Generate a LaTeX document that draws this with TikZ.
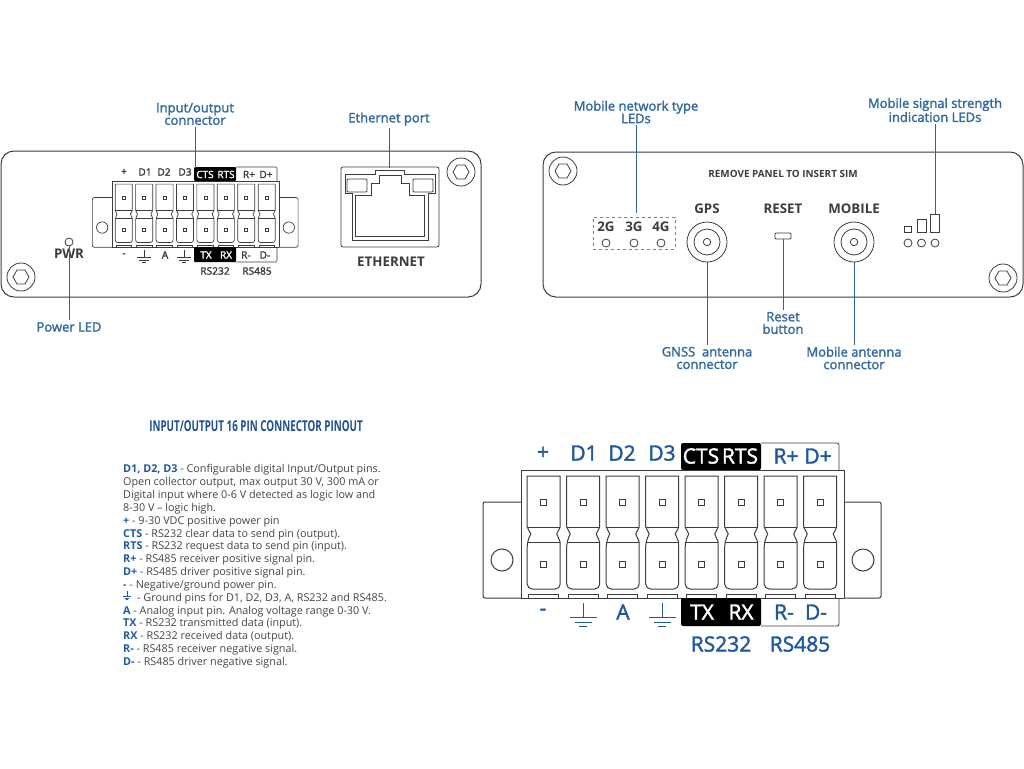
\documentclass[tikz,border=0pt]{standalone}
\usepackage{fontspec}
\setmainfont{Open Sans}
\newfontfamily\semib[FakeBold=2]{Open Sans}
\usetikzlibrary{positioning}
\definecolor{leadblue}{HTML}{2F6496}
\definecolor{labelblue}{HTML}{336A9E}
\definecolor{pinblue}{HTML}{1F5A9C}
\definecolor{titleblue}{HTML}{1E4F8F}
\definecolor{inkgray}{HTML}{3C3C3C}
\definecolor{bodygray}{HTML}{454545}
\tikzset{
    callout/.style={font=\semib\fontsize{13}{12.5}\selectfont, text=labelblue, align=center, inner sep=0pt, outer sep=2pt},
    leader/.style={draw=leadblue, line width=1pt},
    panel/.style={draw=inkgray, line width=1pt, rounded corners=13pt},
    part/.style={draw=inkgray, line width=.8pt},
    led/.style={circle, draw=inkgray, line width=.8pt, minimum size=8pt, inner sep=0pt, outer sep=0pt},
    caps/.style={font=\bfseries\fontsize{13.3}{13.3}\selectfont, text=inkgray, inner sep=0pt},
    smallpin/.style={font=\semib\fontsize{10.2}{10}\selectfont, text=inkgray, inner sep=0pt},
    smallwhite/.style={font=\semib\fontsize{10}{10}\selectfont, text=white, inner sep=0pt},
    largepin/.style={font=\semib\fontsize{21}{21}\selectfont, text=pinblue, inner sep=0pt},
    largewhite/.style={font=\semib\fontsize{21}{21}\selectfont, text=white, inner sep=0pt},
    pics/screw/.style={code={
        \draw[part] (0,0) circle (14);
        \draw[part] (0:8) -- (60:8) -- (120:8) -- (180:8) -- (240:8) -- (300:8) -- cycle;
    }},
    pics/earth/.style={code={
        \draw (0,0) -- (0,14);
        \draw (-13.5,14) -- (13.5,14);
        \draw (-8.5,19) -- (8.5,19);
        \draw (-4,23) -- (4,23);
    }},
    pics/terminal/.style={code={
        \draw (0,128) -- (0,0) -- (323,0) -- (323,128);
        \draw (0,128) -- (323,128);
        \draw[rounded corners=2pt] (0,32) -- (-38,32) -- (-38,128) -- (0,128);
        \draw[rounded corners=2pt] (323,32) -- (360,32) -- (360,128) -- (323,128);
        \draw (-19,90) circle (11);
        \draw (342,90) circle (11);
        \foreach \pin in {0,...,7} {
            \begin{scope}[xshift={22.7+39.5*\pin}]
                \draw (-16.5,6) -- (16.5,6) -- (16.5,57) -- (13,64) -- (16.5,72)
                    [rounded corners=5pt*#1] -- (16.5,119) -- (-16.5,119) -- (-16.5,72)
                    [sharp corners] -- (-13,64) -- (-16.5,57) -- cycle;
                \draw (-16.5,57) -- (16.5,57);
                \draw (-16.5,72) -- (16.5,72);
                \draw (-3,29) rectangle (3,35);
                \draw (-3,91) rectangle (3,97);
                \draw (-15,128) -- (-15,124) -- (15,124) -- (15,128);
            \end{scope}
        }
    }}
}

\begin{document}
\begin{tikzpicture}[x=1pt, y=-1pt]
        \useasboundingbox (0,0) rectangle (1024,768);
        \draw[panel] (1,151) rectangle (481,297);
        \pic at (461,172) {screw};
        \pic at (21,277) {screw};
        \pic[scale=.517, draw=inkgray, line width=.7pt] at (112,181) {terminal=.517};
        \fill[black, rounded corners=1pt] (194,167) rectangle (236,181);
        \draw[part, line width=.6pt, rounded corners=1pt] (236,167) -- (277,167) -- (277,181);
        \fill[black, rounded corners=1pt] (194,247) rectangle (236,262);
        \draw[part, line width=.6pt, rounded corners=1pt] (236,262) -- (277,262) -- (277,247);
        \foreach \name/\xpos [count=\i] in {+/124, D1/145, D2/164, D3/185} {
            \node[smallpin] (st\i) at (\xpos,172) {\name};
        }
        \foreach \name/\xpos [count=\i] in {CTS/205, RTS/226} {
            \node[smallwhite] (sw\i) at (\xpos,174.5) {\name};
        }
        \foreach \name/\xpos [count=\i] in {R+/249, D+/266} {
            \node[smallpin] (sr\i) at (\xpos,174.5) {\name};
        }
        \foreach \name/\xpos [count=\i] in {-/124, A/165, R-/246, D-/265} {
            \node[smallpin] (sb\i) at (\xpos,255) {\name};
        }
        \foreach \name/\xpos [count=\i] in {TX/206, RX/226} {
            \node[smallwhite] (sx\i) at (\xpos,255) {\name};
        }
        \pic[draw=inkgray, line width=.7pt, scale=.55] at (144,250) {earth};
        \pic[draw=inkgray, line width=.7pt, scale=.55] at (184,250) {earth};
        \node[smallpin] (rsa) at (215,271) {RS232};
        \node[smallpin] (rsb) at (257,271) {RS485};
        \node[led] (pwrled) at (69,242) {};
        \node[caps] (pwrtext) at (69,254) {PWR};
        \draw[part, rounded corners=2pt] (341,167) rectangle (439,247);
        \draw[part] (345,174) -- (375,174) -- (375,170) -- (404,170) -- (404,174) -- (435,174) -- (435,193) -- (428,193) -- (428,240) -- (352,240) -- (352,193) -- (345,193) -- cycle;
        \draw[part] (355,195) -- (371,195) -- (371,183) -- (379,183) -- (379,175) -- (401,175) -- (401,183) -- (409,183) -- (409,195) -- (424,195) -- (424,236) -- (355,236) -- cycle;
        \draw[part, rounded corners=1pt] (347,179) rectangle (367,192);
        \draw[part, rounded corners=1pt] (413,179) rectangle (433,192);
        \node[caps] (ethtext) at (391,262) {ETHERNET};
        \coordinate (iotarget) at (195,168);
        \coordinate (ethtarget) at (389,168);
        \node[callout] (iolabel) at (195,114) {Input/output\\connector};
        \node[callout] (ethlabel) at (389,119) {Ethernet port};
        \node[callout] (pwrlabel) at (69,327) {Power LED};
        \draw[leader] (iolabel.south) -- (iotarget);
        \draw[leader] (ethlabel.south) -- (ethtarget);
        \draw[leader] (pwrled.south) -- (pwrlabel.north);

        \draw[panel] (543,152) rectangle (1023,297);
        \pic at (563,171) {screw};
        \pic at (1003,278) {screw};
        \node[font=\bfseries\fontsize{9.9}{10}\selectfont, text=inkgray, inner sep=0pt] (simtext) at (783,174) {REMOVE PANEL TO INSERT SIM};
        \node[draw=gray, dashed, line width=.6pt, minimum width=82pt, minimum height=32pt, inner sep=0pt] (ledbox) at (634,233) {};
        \foreach \name/\xpos in {2G/606, 3G/634, 4G/661} {
            \node[caps] (t\name) at (\xpos,227) {\name};
            \node[led] (l\name) at (\xpos,243) {};
        }
        \node[caps] (gpstext) at (707,209) {GPS};
        \node[caps] (resettext) at (783,209) {RESET};
        \node[caps] (mobtext) at (854,209) {MOBILE};
        \node[circle, draw=inkgray, line width=.8pt, minimum size=40pt, inner sep=0pt, outer sep=0pt] (gpsjack) at (707,242) {};
        \draw[part] (gpsjack) circle (13);
        \draw[part] (gpsjack) circle (3.7);
        \node[circle, draw=inkgray, line width=.8pt, minimum size=40pt, inner sep=0pt, outer sep=0pt] (mobjack) at (854,242) {};
        \draw[part] (mobjack) circle (13);
        \draw[part] (mobjack) circle (3.7);
        \node[draw=inkgray, line width=.8pt, rounded corners=1pt, minimum width=16pt, minimum height=6pt, inner sep=0pt, outer sep=0pt] (resetbtn) at (783,236) {};
        \draw[part] (904,226) rectangle (911,232);
        \draw[part] (917,219) rectangle (926,232);
        \draw[part] (930,214) rectangle (939,232);
        \node[led] (siga) at (908,243) {};
        \node[led] (sigb) at (921.5,243) {};
        \node[led] (sigc) at (935,243) {};
        \coordinate (ledtarget) at (636,213);
        \coordinate (sigtarget) at (935,214);
        \node[callout] (ledlabel) at (636,112) {Mobile network type\\LEDs};
        \node[callout] (siglabel) at (935,110) {Mobile signal strength\\indication LEDs};
        \node[callout] (gnsslabel) at (707,358) {GNSS\ \ antenna\\connector};
        \node[callout] (resetlabel) at (783,323) {Reset\\button};
        \node[callout] (moblabel) at (854,358) {Mobile antenna\\connector};
        \draw[leader] (ledlabel.south) -- (ledtarget);
        \draw[leader] (siglabel.south) -- (sigtarget);
        \draw[leader] (gpsjack.south) -- (gnsslabel.north);
        \draw[leader] (resetbtn.south) -- (resetlabel.north);
        \draw[leader] (mobjack.south) -- (moblabel.north);

        \node[font=\bfseries\fontsize{15}{15}\selectfont, text=titleblue, inner sep=0pt, xscale=.655] (pinouttitle) at (256,426) {INPUT/OUTPUT 16 PIN CONNECTOR PINOUT};
        \node[anchor=north west, inner sep=0pt, align=left, text=bodygray, font=\fontsize{10.8}{12.83}\selectfont] (pinoutlist) at (123,464.5) {%
            \textcolor{pinblue}{\textbf{D1, D2, D3}} - Configurable digital Input/Output pins.\\
            Open collector output, max output 30 V, 300 mA or\\
            Digital input where 0-6 V detected as logic low and\\
            8-30 V -- logic high.\\
            \textcolor{pinblue}{\textbf{+}} - 9-30 VDC positive power pin\\
            \textcolor{pinblue}{\textbf{CTS}} - RS232 clear data to send pin (output).\\
            \textcolor{pinblue}{\textbf{RTS}} - RS232 request data to send pin (input).\\
            \textcolor{pinblue}{\textbf{R+}} - RS485 receiver positive signal pin.\\
            \textcolor{pinblue}{\textbf{D+}} - RS485 driver positive signal pin.\\
            \textcolor{pinblue}{\textbf{-}} - Negative/ground power pin.\\
            \hspace*{14pt}- Ground pins for D1, D2, D3, A, RS232 and RS485.\\
            \textcolor{pinblue}{\textbf{A}} - Analog input pin. Analog voltage range 0-30 V.\\
            \textcolor{pinblue}{\textbf{TX}} - RS232 transmitted data (input).\\
            \textcolor{pinblue}{\textbf{RX}} - RS232 received data (output).\\
            \textcolor{pinblue}{\textbf{R-}} - RS485 receiver negative signal.\\
            \textcolor{pinblue}{\textbf{D-}} - RS485 driver negative signal.};
        \pic[draw=pinblue, line width=.9pt, xscale=.28, yscale=.38] at (127,591) {earth};

        \pic[draw=inkgray, line width=1pt] at (521,470) {terminal=1};
        \fill[black, rounded corners=2pt] (681,443) rectangle (761,470);
        \draw[part, rounded corners=2pt] (761,443) -- (839,443) -- (839,470);
        \fill[black, rounded corners=2pt] (681,598) rectangle (761,626);
        \draw[part, rounded corners=2pt] (761,626) -- (839,626) -- (839,598);
        \foreach \name/\xpos [count=\i] in {+/543, D1/584, D2/622, D3/662} {
            \node[largepin] (lt\i) at (\xpos,453) {\name};
        }
        \foreach \name/\xpos [count=\i] in {CTS/701, RTS/740} {
            \node[largewhite] (lw\i) at (\xpos,456) {\name};
        }
        \foreach \name/\xpos [count=\i] in {R+/786, D+/818} {
            \node[largepin] (lr\i) at (\xpos,456) {\name};
        }
        \foreach \name/\xpos [count=\i] in {-/543, A/623, R-/784, D-/816} {
            \node[largepin] (lb\i) at (\xpos,612) {\name};
        }
        \foreach \name/\xpos [count=\i] in {TX/702, RX/741} {
            \node[largewhite] (lx\i) at (\xpos,612) {\name};
        }
        \pic[draw=pinblue, line width=1pt] at (583,603) {earth};
        \pic[draw=pinblue, line width=1pt] at (662,603) {earth};
        \node[largepin] (lrsa) at (721,644) {RS232};
        \node[largepin] (lrsb) at (800,644) {RS485};
    \end{tikzpicture}
\end{document}
